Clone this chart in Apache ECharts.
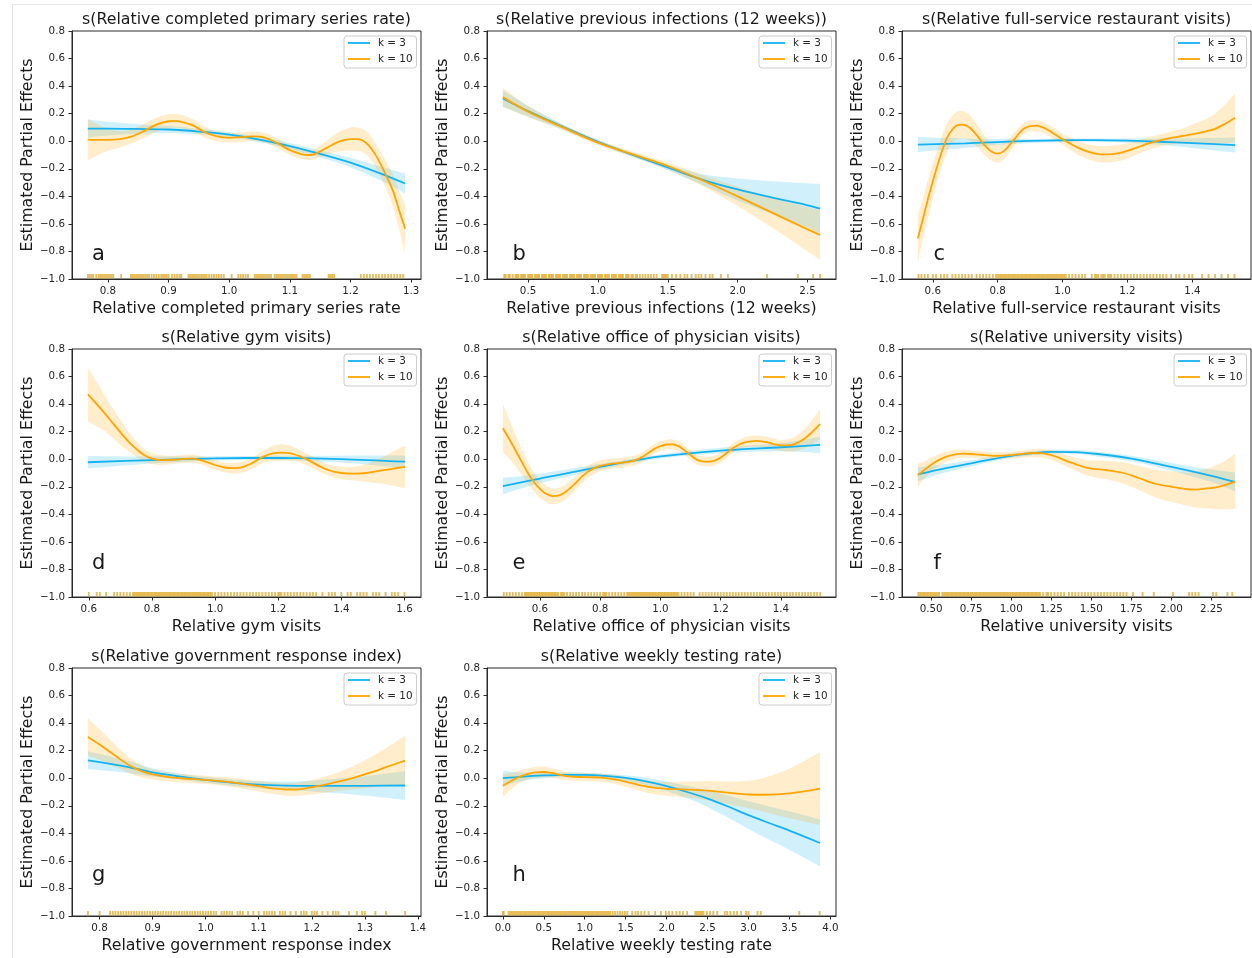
<!DOCTYPE html>
<html>
<head>
<meta charset="utf-8">
<script src="https://cdn.jsdelivr.net/npm/echarts@6/dist/echarts.min.js"></script>
<style>
  html, body { margin: 0; padding: 0; background: #ffffff; }
  #chart { width: 1252px; height: 958px; }
</style>
</head>
<body>
<div id="chart"></div>
<script>
// ---------- panel texts ----------
const panelLetters = ['a', 'b', 'c', 'd', 'e', 'f', 'g', 'h'];
const titles = [
  's(Relative completed primary series rate)',
  's(Relative previous infections (12 weeks))',
  's(Relative full-service restaurant visits)',
  's(Relative gym visits)',
  's(Relative office of physician visits)',
  's(Relative university visits)',
  's(Relative government response index)',
  's(Relative weekly testing rate)'
];
const xNames = [
  'Relative completed primary series rate',
  'Relative previous infections (12 weeks)',
  'Relative full-service restaurant visits',
  'Relative gym visits',
  'Relative office of physician visits',
  'Relative university visits',
  'Relative government response index',
  'Relative weekly testing rate'
];
const yName = 'Estimated Partial Effects';
const legendNames = ['k = 3', 'k = 10'];
const yTickRange = [-1.0, 0.8, 0.2];

// ---------- a: completed primary series ----------
const rangeA = [0.7409, 1.3162];
const ticksA = [0.8, 0.9, 1.0, 1.1, 1.2, 1.3];
const xA3 = [0.767, 0.80, 0.85, 0.90, 0.95, 1.00, 1.05, 1.10, 1.15, 1.20, 1.25, 1.29];
const fitA3 = [0.092, 0.091, 0.089, 0.085, 0.070, 0.048, 0.012, -0.035, -0.092, -0.155, -0.235, -0.307];
const ciA3 = [0.065, 0.05, 0.035, 0.025, 0.02, 0.018, 0.02, 0.022, 0.025, 0.035, 0.05, 0.072];
const xA10 = [0.767, 0.78, 0.80, 0.82, 0.84, 0.86, 0.88, 0.90, 0.91, 0.92, 0.94, 0.96, 0.98, 1.00, 1.02, 1.04, 1.06, 1.08, 1.10, 1.12, 1.13, 1.14, 1.16, 1.18, 1.20, 1.21, 1.22, 1.23, 1.24, 1.25, 1.26, 1.27, 1.28, 1.29];
const fitA10 = [0.012, 0.010, 0.010, 0.015, 0.035, 0.075, 0.120, 0.145, 0.147, 0.143, 0.115, 0.065, 0.035, 0.025, 0.030, 0.035, 0.025, -0.015, -0.065, -0.095, -0.100, -0.095, -0.050, -0.005, 0.015, 0.015, 0.005, -0.030, -0.090, -0.170, -0.260, -0.360, -0.500, -0.635];
const ciA10 = [0.15, 0.12, 0.08, 0.06, 0.05, 0.05, 0.05, 0.05, 0.05, 0.05, 0.045, 0.04, 0.035, 0.035, 0.035, 0.035, 0.035, 0.035, 0.035, 0.035, 0.035, 0.035, 0.05, 0.07, 0.085, 0.085, 0.085, 0.085, 0.085, 0.09, 0.1, 0.115, 0.14, 0.175];
const rugA = [0.767, 0.770, 0.773, 0.776, 0.781, 0.785, 0.788, 0.791, 0.794, 0.797, 0.800, 0.803, 0.806, 0.809, 0.822,
  0.838, 0.841, 0.844, 0.847, 0.850, 0.853, 0.856, 0.859, 0.862, 0.865, 0.868, 0.872, 0.876, 0.880, 0.884, 0.888, 0.891, 0.894, 0.897, 0.900, 0.906, 0.910, 0.914, 0.918, 0.921,
  0.933, 0.936, 0.939, 0.942, 0.945, 0.948, 0.951, 0.954, 0.957, 0.960, 0.963, 0.967, 0.971, 0.975, 0.979, 0.983, 0.987, 0.991,
  1.004, 1.015, 1.019, 1.023, 1.027, 1.031,
  1.042, 1.045, 1.048, 1.051, 1.054, 1.057, 1.060, 1.063, 1.066, 1.069,
  1.075, 1.078, 1.081, 1.084, 1.087, 1.090, 1.093, 1.096, 1.099, 1.102, 1.105, 1.108, 1.111,
  1.121, 1.124, 1.127, 1.130, 1.133, 1.164, 1.167, 1.170, 1.173,
  1.217, 1.222, 1.227, 1.232, 1.237, 1.242, 1.247, 1.252, 1.257, 1.262, 1.267, 1.272, 1.277, 1.282, 1.287];

// ---------- b: previous infections ----------
const rangeB = [0.2065, 2.7035];
const ticksB = [0.5, 1.0, 1.5, 2.0, 2.5];
const xB3 = [0.32, 0.5, 0.75, 1.0, 1.25, 1.5, 1.75, 2.0, 2.25, 2.5, 2.59];
const fitB3 = [0.31, 0.218, 0.104, -0.005, -0.10, -0.19, -0.28, -0.35, -0.41, -0.465, -0.49];
const ciB3 = [0.06, 0.04, 0.02, 0.015, 0.015, 0.02, 0.04, 0.08, 0.12, 0.16, 0.18];
const xB10 = [0.32, 0.5, 0.75, 1.0, 1.25, 1.5, 1.75, 2.0, 2.25, 2.5, 2.59];
const fitB10 = [0.32, 0.215, 0.10, -0.01, -0.095, -0.18, -0.285, -0.40, -0.52, -0.64, -0.68];
const ciB10 = [0.07, 0.04, 0.02, 0.02, 0.02, 0.025, 0.04, 0.07, 0.11, 0.16, 0.18];
const rugB = [0.33, 0.34, 0.36, 0.37, 0.39, 0.41, 0.42, 0.43, 0.45, 0.46, 0.47, 0.48, 0.50, 0.51, 0.52, 0.53, 0.55, 0.56, 0.57, 0.58,
  0.60, 0.61, 0.62, 0.63, 0.65, 0.66, 0.67, 0.68, 0.70, 0.71, 0.72, 0.73, 0.75, 0.76, 0.77, 0.78, 0.80, 0.81, 0.82, 0.83,
  0.85, 0.86, 0.87, 0.88, 0.90, 0.91, 0.92, 0.93, 0.95, 0.96, 0.97, 0.98, 1.00, 1.01, 1.02, 1.03, 1.05, 1.06, 1.07, 1.08,
  1.10, 1.11, 1.12, 1.13, 1.15, 1.16, 1.17, 1.18, 1.20, 1.21, 1.22, 1.24, 1.25, 1.27, 1.28, 1.30, 1.32, 1.34, 1.36, 1.38,
  1.40, 1.42, 1.46, 1.47, 1.48, 1.49, 1.50, 1.53, 1.56, 1.59, 1.62, 1.64, 1.67, 1.70, 1.72, 1.74, 1.77, 1.80, 1.82, 1.88,
  1.93, 2.21, 2.43, 2.54, 2.59];

// ---------- c: full-service restaurant visits ----------
const rangeC = [0.5051, 1.5809];
const ticksC = [0.6, 0.8, 1.0, 1.2, 1.4];
const xC3 = [0.554, 0.7, 0.8, 0.9, 1.0, 1.1, 1.2, 1.3, 1.4, 1.532];
const fitC3 = [-0.025, -0.015, -0.006, 0.002, 0.007, 0.008, 0.004, -0.004, -0.014, -0.028];
const ciC3 = [0.055, 0.035, 0.022, 0.015, 0.012, 0.012, 0.015, 0.022, 0.035, 0.055];
const xC10 = [0.554, 0.57, 0.585, 0.60, 0.615, 0.63, 0.645, 0.66, 0.675, 0.69, 0.705, 0.72, 0.74, 0.76, 0.78, 0.80, 0.82, 0.84, 0.86, 0.88, 0.90, 0.92, 0.94, 0.96, 0.98, 1.00, 1.02, 1.05, 1.08, 1.11, 1.14, 1.17, 1.20, 1.23, 1.26, 1.29, 1.32, 1.35, 1.38, 1.41, 1.44, 1.47, 1.50, 1.532];
const fitC10 = [-0.705, -0.56, -0.42, -0.29, -0.17, -0.06, 0.03, 0.085, 0.115, 0.12, 0.11, 0.085, 0.03, -0.03, -0.075, -0.09, -0.07, -0.02, 0.04, 0.09, 0.11, 0.113, 0.10, 0.075, 0.045, 0.015, -0.012, -0.05, -0.078, -0.093, -0.095, -0.088, -0.07, -0.045, -0.02, 0.0, 0.017, 0.03, 0.042, 0.055, 0.07, 0.09, 0.125, 0.17];
const ciC10 = [0.17, 0.15, 0.14, 0.13, 0.12, 0.11, 0.105, 0.1, 0.1, 0.1, 0.095, 0.09, 0.08, 0.07, 0.065, 0.065, 0.06, 0.05, 0.045, 0.04, 0.04, 0.04, 0.04, 0.04, 0.04, 0.04, 0.045, 0.05, 0.055, 0.06, 0.06, 0.06, 0.055, 0.05, 0.045, 0.045, 0.045, 0.05, 0.06, 0.075, 0.09, 0.11, 0.14, 0.175];
const rugC = [0.556, 0.565, 0.575, 0.585, 0.60, 0.61, 0.625, 0.635, 0.645, 0.66, 0.67, 0.68, 0.69, 0.70, 0.71, 0.72, 0.735, 0.745, 0.755, 0.765, 0.775, 0.785,
  0.795, 0.80, 0.805, 0.81, 0.815, 0.82, 0.825, 0.83, 0.835, 0.84, 0.845, 0.85, 0.855, 0.86, 0.865, 0.87, 0.875, 0.88, 0.885, 0.89, 0.895,
  0.90, 0.905, 0.91, 0.915, 0.92, 0.925, 0.93, 0.935, 0.94, 0.945, 0.95, 0.955, 0.96, 0.965, 0.97, 0.975, 0.98, 0.985, 0.99, 0.995,
  1.00, 1.005, 1.01, 1.02, 1.03, 1.04, 1.05, 1.06, 1.07, 1.09, 1.10, 1.105, 1.11, 1.12, 1.125, 1.13, 1.14, 1.145, 1.15, 1.16, 1.17,
  1.18, 1.19, 1.20, 1.21, 1.22, 1.23, 1.24, 1.25, 1.26, 1.27, 1.28, 1.29, 1.30, 1.31, 1.32, 1.335, 1.35, 1.36, 1.375, 1.39, 1.40,
  1.43, 1.45, 1.47, 1.49, 1.51, 1.53];

// ---------- d: gym visits ----------
const rangeD = [0.5468, 1.6523];
const ticksD = [0.6, 0.8, 1.0, 1.2, 1.4, 1.6];
const xD3 = [0.597, 0.8, 1.0, 1.2, 1.4, 1.602];
const fitD3 = [-0.022, -0.006, 0.006, 0.010, 0.001, -0.018];
const ciD3 = [0.045, 0.025, 0.015, 0.015, 0.025, 0.045];
const xD10 = [0.597, 0.625, 0.65, 0.675, 0.70, 0.725, 0.75, 0.775, 0.80, 0.83, 0.87, 0.90, 0.93, 0.96, 1.00, 1.03, 1.06, 1.09, 1.12, 1.15, 1.18, 1.21, 1.24, 1.27, 1.30, 1.33, 1.36, 1.40, 1.44, 1.48, 1.52, 1.56, 1.602];
const fitD10 = [0.47, 0.40, 0.335, 0.265, 0.195, 0.13, 0.075, 0.03, 0.005, -0.006, -0.004, 0.002, 0.004, -0.01, -0.042, -0.06, -0.065, -0.055, -0.025, 0.015, 0.04, 0.048, 0.042, 0.02, -0.012, -0.05, -0.08, -0.1, -0.105, -0.1, -0.085, -0.07, -0.055];
const ciD10 = [0.195, 0.16, 0.13, 0.11, 0.09, 0.07, 0.055, 0.045, 0.04, 0.035, 0.03, 0.03, 0.03, 0.03, 0.035, 0.035, 0.04, 0.04, 0.04, 0.045, 0.055, 0.06, 0.055, 0.045, 0.04, 0.04, 0.04, 0.045, 0.05, 0.065, 0.09, 0.12, 0.155];
const rugD = [0.60, 0.625, 0.635, 0.655, 0.68, 0.69, 0.70, 0.71, 0.72, 0.73, 0.74, 0.745, 0.75, 0.755, 0.76, 0.765, 0.77, 0.775, 0.78, 0.785, 0.79, 0.795,
  0.80, 0.805, 0.81, 0.815, 0.82, 0.825, 0.83, 0.835, 0.84, 0.845, 0.85, 0.855, 0.86, 0.865, 0.87, 0.875, 0.88, 0.885, 0.89, 0.895,
  0.90, 0.905, 0.91, 0.915, 0.92, 0.925, 0.93, 0.935, 0.94, 0.945, 0.95, 0.955, 0.96, 0.965, 0.97, 0.975, 0.98, 0.985, 0.99,
  1.00, 1.01, 1.02, 1.03, 1.04, 1.05, 1.06, 1.07, 1.08, 1.09, 1.10, 1.11, 1.12, 1.13, 1.14, 1.15, 1.16, 1.17, 1.18, 1.19,
  1.20, 1.205, 1.21, 1.22, 1.23, 1.24, 1.25, 1.26, 1.27, 1.28, 1.29, 1.30, 1.31, 1.32, 1.34, 1.36, 1.37, 1.38, 1.40, 1.42,
  1.43, 1.45, 1.46, 1.47, 1.48, 1.50, 1.51, 1.52, 1.54, 1.56, 1.57, 1.58, 1.60];

// ---------- e: office of physician visits ----------
const rangeE = [0.4244, 1.5827];
const ticksE = [0.6, 0.8, 1.0, 1.2, 1.4];
const xE3 = [0.477, 0.6, 0.8, 1.0, 1.2, 1.4, 1.53];
const fitE3 = [-0.195, -0.14, -0.055, 0.02, 0.063, 0.087, 0.104];
const ciE3 = [0.06, 0.035, 0.02, 0.015, 0.02, 0.03, 0.06];
const xE10 = [0.477, 0.50, 0.52, 0.54, 0.56, 0.58, 0.60, 0.62, 0.64, 0.66, 0.68, 0.70, 0.72, 0.74, 0.76, 0.78, 0.80, 0.83, 0.86, 0.89,
  0.92, 0.95, 0.98, 1.00, 1.02, 1.04, 1.06, 1.08, 1.10, 1.12, 1.14, 1.16, 1.18, 1.20, 1.22, 1.24, 1.26, 1.28, 1.30, 1.32,
  1.34, 1.36, 1.38, 1.40, 1.42, 1.44, 1.46, 1.48, 1.50, 1.53];
const fitE10 = [0.225, 0.14, 0.06, -0.02, -0.1, -0.165, -0.215, -0.25, -0.268, -0.265, -0.245, -0.21, -0.17, -0.125, -0.09, -0.065, -0.048, -0.035, -0.028, -0.02,
  -0.005, 0.03, 0.075, 0.095, 0.107, 0.108, 0.095, 0.065, 0.03, -0.003, -0.015, -0.017, -0.01, 0.012, 0.045, 0.08, 0.105, 0.122, 0.13, 0.133,
  0.128, 0.12, 0.108, 0.1, 0.1, 0.106, 0.125, 0.152, 0.19, 0.254];
const ciE10 = [0.175, 0.14, 0.115, 0.095, 0.08, 0.07, 0.065, 0.06, 0.058, 0.056, 0.055, 0.053, 0.05, 0.047, 0.045, 0.042, 0.04, 0.038, 0.036, 0.035,
  0.035, 0.035, 0.035, 0.035, 0.035, 0.035, 0.035, 0.035, 0.035, 0.035, 0.035, 0.035, 0.035, 0.035, 0.035, 0.035, 0.035, 0.037, 0.04, 0.04,
  0.04, 0.04, 0.04, 0.04, 0.045, 0.05, 0.06, 0.07, 0.085, 0.11];
const rugE = [0.48, 0.49, 0.50, 0.51, 0.52, 0.53, 0.54, 0.55, 0.555, 0.56, 0.565, 0.57, 0.575, 0.58, 0.585, 0.59, 0.595, 0.60, 0.605, 0.61, 0.615, 0.62,
  0.625, 0.63, 0.635, 0.64, 0.645, 0.65, 0.655, 0.66, 0.67, 0.675, 0.68, 0.69, 0.70, 0.71, 0.72, 0.73, 0.74, 0.75, 0.76, 0.77, 0.78, 0.79,
  0.80, 0.81, 0.815, 0.82, 0.83, 0.84, 0.85, 0.86, 0.87, 0.88, 0.89, 0.895, 0.90, 0.905, 0.91, 0.915, 0.92, 0.925, 0.93, 0.935, 0.94,
  0.945, 0.95, 0.955, 0.96, 0.965, 0.97, 0.975, 0.98, 0.985, 0.99, 0.995, 1.00, 1.005, 1.01, 1.015, 1.02, 1.025, 1.03, 1.035, 1.04,
  1.045, 1.05, 1.055, 1.06, 1.07, 1.08, 1.09, 1.10, 1.11, 1.13, 1.14, 1.15, 1.16, 1.17, 1.18, 1.19, 1.20, 1.21, 1.22, 1.23, 1.24,
  1.25, 1.26, 1.27, 1.28, 1.29, 1.30, 1.31, 1.32, 1.33, 1.34, 1.35, 1.36, 1.37, 1.38, 1.39, 1.40, 1.41, 1.42, 1.43, 1.44, 1.45,
  1.46, 1.47, 1.48, 1.49, 1.50, 1.51, 1.52, 1.53];

// ---------- f: university visits ----------
const rangeF = [0.318, 2.497];
const ticksF = [0.50, 0.75, 1.00, 1.25, 1.50, 1.75, 2.00, 2.25];
const xF3 = [0.417, 0.6, 0.75, 1.0, 1.25, 1.4, 1.5, 1.75, 2.0, 2.25, 2.398];
const fitF3 = [-0.11, -0.063, -0.03, 0.025, 0.054, 0.052, 0.043, 0.005, -0.055, -0.12, -0.165];
const ciF3 = [0.05, 0.03, 0.022, 0.015, 0.015, 0.015, 0.017, 0.02, 0.028, 0.045, 0.068];
const xF10 = [0.417, 0.45, 0.5, 0.55, 0.6, 0.65, 0.7, 0.75, 0.8, 0.9, 1.0, 1.1, 1.15, 1.2, 1.25, 1.3, 1.35, 1.4, 1.45, 1.5, 1.6, 1.7, 1.8, 1.9, 2.0, 2.1, 2.15, 2.2, 2.3, 2.398];
const fitF10 = [-0.115, -0.085, -0.04, -0.005, 0.02, 0.035, 0.04, 0.038, 0.033, 0.025, 0.03, 0.042, 0.045, 0.042, 0.03, 0.01, -0.015, -0.035, -0.055, -0.068, -0.08, -0.1, -0.138, -0.178, -0.2, -0.218, -0.22, -0.215, -0.198, -0.162];
const ciF10 = [0.085, 0.065, 0.05, 0.042, 0.037, 0.033, 0.03, 0.028, 0.027, 0.025, 0.025, 0.027, 0.03, 0.032, 0.035, 0.038, 0.042, 0.047, 0.052, 0.058, 0.068, 0.078, 0.088, 0.1, 0.11, 0.12, 0.13, 0.14, 0.165, 0.2];
const rugF = [0.42, 0.43, 0.44, 0.45, 0.46, 0.47, 0.48, 0.49, 0.50, 0.51, 0.52, 0.53, 0.54, 0.55, 0.57, 0.58, 0.59, 0.60, 0.61, 0.62, 0.63, 0.64,
  0.65, 0.66, 0.67, 0.68, 0.69, 0.70, 0.71, 0.72, 0.73, 0.74, 0.75, 0.76, 0.77, 0.78, 0.79, 0.80, 0.81, 0.82, 0.83, 0.84, 0.85, 0.86,
  0.87, 0.88, 0.89, 0.90, 0.91, 0.92, 0.93, 0.94, 0.95, 0.96, 0.97, 0.98, 0.99, 1.00, 1.01, 1.02, 1.03, 1.04, 1.05, 1.06, 1.07, 1.08,
  1.09, 1.10, 1.11, 1.12, 1.13, 1.14, 1.15, 1.16, 1.17, 1.18, 1.20, 1.22, 1.23, 1.25, 1.27, 1.29, 1.31, 1.33, 1.36, 1.38, 1.40, 1.42,
  1.44, 1.46, 1.48, 1.50, 1.52, 1.54, 1.56, 1.58, 1.60, 1.62, 1.64, 1.66, 1.68, 1.70, 1.72, 1.76, 1.82, 1.89, 2.01, 2.11, 2.13, 2.15,
  2.17, 2.26, 2.28, 2.35, 2.38];

// ---------- g: government response index ----------
const rangeG = [0.7481, 1.4059];
const ticksG = [0.8, 0.9, 1.0, 1.1, 1.2, 1.3, 1.4];
const xG3 = [0.778, 0.85, 0.9, 0.95, 1.0, 1.05, 1.1, 1.15, 1.2, 1.3, 1.376];
const fitG3 = [0.13, 0.085, 0.042, 0.013, -0.012, -0.032, -0.047, -0.054, -0.056, -0.055, -0.053];
const ciG3 = [0.065, 0.045, 0.03, 0.022, 0.02, 0.022, 0.025, 0.03, 0.04, 0.07, 0.105];
const xG10 = [0.778, 0.80, 0.82, 0.84, 0.86, 0.88, 0.90, 0.93, 0.96, 1.00, 1.05, 1.10, 1.13, 1.15, 1.17, 1.19, 1.21, 1.23, 1.25, 1.28, 1.31, 1.34, 1.376];
const fitG10 = [0.30, 0.245, 0.19, 0.135, 0.085, 0.05, 0.028, 0.008, -0.002, -0.012, -0.03, -0.058, -0.075, -0.082, -0.082, -0.072, -0.058, -0.042, -0.025, 0.005, 0.04, 0.08, 0.128];
const ciG10 = [0.135, 0.11, 0.09, 0.07, 0.055, 0.045, 0.037, 0.032, 0.03, 0.03, 0.033, 0.038, 0.042, 0.045, 0.047, 0.05, 0.055, 0.06, 0.068, 0.085, 0.11, 0.14, 0.18];
const rugG = [0.778, 0.80, 0.82, 0.825, 0.83, 0.835, 0.84, 0.845, 0.85, 0.855, 0.86, 0.865, 0.87, 0.875, 0.88, 0.885, 0.89, 0.895,
  0.90, 0.905, 0.91, 0.915, 0.92, 0.925, 0.93, 0.935, 0.94, 0.945, 0.95, 0.955, 0.96, 0.965, 0.97, 0.975, 0.98, 0.985, 0.99, 0.995,
  1.00, 1.005, 1.01, 1.015, 1.02, 1.03, 1.035, 1.04, 1.045, 1.05, 1.06, 1.065, 1.07, 1.08, 1.09, 1.10, 1.11, 1.115, 1.12, 1.125,
  1.13, 1.14, 1.145, 1.15, 1.16, 1.17, 1.18, 1.185, 1.19, 1.20, 1.205, 1.21, 1.22, 1.23, 1.24, 1.245, 1.25, 1.27, 1.285, 1.295,
  1.30, 1.32, 1.34, 1.376];

// ---------- h: weekly testing rate ----------
const rangeH = [-0.1938, 4.0688];
const ticksH = [0.0, 0.5, 1.0, 1.5, 2.0, 2.5, 3.0, 3.5, 4.0];
const xH3 = [0.0, 0.25, 0.5, 0.75, 1.0, 1.25, 1.5, 1.75, 2.0, 2.25, 2.5, 2.75, 3.0, 3.25, 3.5, 3.875];
const fitH3 = [0.0, 0.012, 0.02, 0.025, 0.025, 0.017, 0.002, -0.023, -0.058, -0.1, -0.148, -0.205, -0.268, -0.325, -0.38, -0.47];
const ciH3 = [0.055, 0.03, 0.02, 0.017, 0.015, 0.016, 0.02, 0.027, 0.035, 0.045, 0.06, 0.08, 0.1, 0.12, 0.14, 0.17];
const xH10 = [0.0, 0.1, 0.2, 0.3, 0.4, 0.5, 0.6, 0.7, 0.8, 1.0, 1.2, 1.4, 1.6, 1.8, 2.0, 2.2, 2.5, 2.8, 3.0, 3.2, 3.5, 3.875];
const fitH10 = [-0.055, -0.02, 0.01, 0.03, 0.043, 0.045, 0.038, 0.025, 0.013, 0.008, 0.004, -0.012, -0.04, -0.065, -0.077, -0.081, -0.09, -0.108, -0.118, -0.12, -0.11, -0.075];
const ciH10 = [0.085, 0.06, 0.045, 0.04, 0.04, 0.04, 0.035, 0.032, 0.03, 0.03, 0.03, 0.033, 0.038, 0.045, 0.05, 0.057, 0.07, 0.085, 0.1, 0.125, 0.18, 0.265];
const rugH = [0.0, 0.01, 0.07, 0.09, 0.11, 0.13, 0.15, 0.17, 0.19, 0.21, 0.23, 0.25, 0.27, 0.29, 0.31, 0.33, 0.35, 0.37, 0.39, 0.41, 0.43,
  0.45, 0.47, 0.49, 0.51, 0.53, 0.55, 0.57, 0.59, 0.61, 0.63, 0.65, 0.67, 0.69, 0.71, 0.73, 0.75, 0.77, 0.79, 0.81, 0.83, 0.85,
  0.87, 0.89, 0.91, 0.93, 0.95, 0.97, 0.99, 1.01, 1.03, 1.05, 1.07, 1.09, 1.11, 1.13, 1.15, 1.17, 1.19, 1.21, 1.23, 1.25, 1.27,
  1.29, 1.31, 1.34, 1.37, 1.40, 1.43, 1.46, 1.49, 1.52, 1.58, 1.62, 1.65, 1.69, 1.73, 1.78, 1.86, 1.93, 1.99, 2.03, 2.07, 2.12,
  2.16, 2.20, 2.25, 2.35, 2.37, 2.39, 2.41, 2.43, 2.45, 2.49, 2.53, 2.57, 2.62, 2.71, 2.74, 2.78, 2.82, 2.86, 2.91, 2.97, 3.00,
  3.11, 3.15, 3.62, 3.87];

// ---------- assemble panels ----------
const panels = [
  { range: rangeA, ticks: ticksA, dec: 1, k3: [xA3, fitA3, ciA3], k10: [xA10, fitA10, ciA10], rug: rugA },
  { range: rangeB, ticks: ticksB, dec: 1, k3: [xB3, fitB3, ciB3], k10: [xB10, fitB10, ciB10], rug: rugB },
  { range: rangeC, ticks: ticksC, dec: 1, k3: [xC3, fitC3, ciC3], k10: [xC10, fitC10, ciC10], rug: rugC },
  { range: rangeD, ticks: ticksD, dec: 1, k3: [xD3, fitD3, ciD3], k10: [xD10, fitD10, ciD10], rug: rugD },
  { range: rangeE, ticks: ticksE, dec: 1, k3: [xE3, fitE3, ciE3], k10: [xE10, fitE10, ciE10], rug: rugE },
  { range: rangeF, ticks: ticksF, dec: 2, k3: [xF3, fitF3, ciF3], k10: [xF10, fitF10, ciF10], rug: rugF },
  { range: rangeG, ticks: ticksG, dec: 1, k3: [xG3, fitG3, ciG3], k10: [xG10, fitG10, ciG10], rug: rugG },
  { range: rangeH, ticks: ticksH, dec: 1, k3: [xH3, fitH3, ciH3], k10: [xH10, fitH10, ciH10], rug: rugH }
];

// ---------- layout & style ----------
const FONT = 'DejaVu Sans';
const BLUE = '#16b2f0';
const ORANGE = '#ffa500';
const AXIS = '#2a2a2a';
const TEXT = '#1a1a1a';
const COLS = [72, 487, 902];
const ROWS = [31, 349, 668];
const PW = 349, PH = 248;
const LETTER_X = [92, 512.5, 933.5];
const LETTER_BASE = [262, 571, 883];

// Catmull-Rom style cubic segments through screen points
function curveTo(p) {
  let s = '';
  for (let i = 0; i < p.length - 1; i++) {
    const a = p[Math.max(i - 1, 0)], b = p[i], c = p[i + 1], e = p[Math.min(i + 2, p.length - 1)];
    const c1 = [b[0] + (c[0] - a[0]) / 6, b[1] + (c[1] - a[1]) / 6];
    const c2 = [c[0] - (e[0] - b[0]) / 6, c[1] - (e[1] - b[1]) / 6];
    s += 'C' + c1.join(',') + ' ' + c2.join(',') + ' ' + c.join(',');
  }
  return s;
}

function bandSeries(i, xs, fit, ci, fill) {
  const rows = xs.map((x, j) => [x, fit[j] - ci[j], fit[j] + ci[j]]);
  return {
    type: 'custom', xAxisIndex: i, yAxisIndex: i, silent: true, z: 1,
    encode: { x: 0, y: [1, 2] }, data: rows,
    renderItem(params, api) {
      if (params.dataIndex !== 0) return null;
      const up = rows.map(r => api.coord([r[0], r[2]]));
      const lo = rows.map(r => api.coord([r[0], r[1]])).reverse();
      const d = 'M' + up[0].join(',') + curveTo(up) + 'L' + lo[0].join(',') + curveTo(lo) + 'Z';
      return { type: 'path', shape: { pathData: d }, style: { fill: fill } };
    }
  };
}

function fitSeries(i, name, xs, fit, color, z) {
  return {
    type: 'line', name: name, xAxisIndex: i, yAxisIndex: i, z: z,
    data: xs.map((x, j) => [x, fit[j]]),
    symbol: 'none', showSymbol: false, smooth: 0.33,
    lineStyle: { color: color, width: 1.8 }, itemStyle: { color: color },
    emphasis: { disabled: true }
  };
}

function rugSeries(i, rug, color, z) {
  return {
    type: 'scatter', xAxisIndex: i, yAxisIndex: i, silent: true, clip: false, z: z,
    data: rug.map(v => [v, yTickRange[0]]),
    symbol: 'rect', symbolSize: [1.8, 4.5], symbolOffset: [0, -2.75],
    itemStyle: { color: color }
  };
}

const minus = v => (v < -1e-9 ? '\u2212' : '') + Math.abs(v).toFixed(1);

const grids = [], xAxes = [], yAxes = [], series = [], legends = [], graphics = [];

panels.forEach((p, i) => {
  const left = COLS[i % 3], top = ROWS[Math.floor(i / 3)];
  grids.push({ left: left, top: top, width: PW, height: PH, show: true, borderColor: AXIS, borderWidth: 1, backgroundColor: 'transparent' });

  xAxes.push({
    gridIndex: i, type: 'value', min: p.range[0], max: p.range[1],
    splitLine: { show: false },
    axisLine: { show: true, onZero: false, lineStyle: { color: AXIS, width: 1 } },
    axisTick: { show: true, length: 3.5, customValues: p.ticks, lineStyle: { color: AXIS } },
    axisLabel: { customValues: p.ticks, formatter: v => v.toFixed(p.dec), color: '#262626', fontSize: 10.3, fontFamily: FONT, margin: 7 },
    name: xNames[i], nameLocation: 'middle', nameGap: 21.5,
    nameTextStyle: { fontSize: 15.8, fontFamily: FONT, color: TEXT }
  });

  yAxes.push({
    gridIndex: i, type: 'value', min: yTickRange[0], max: yTickRange[1], interval: yTickRange[2],
    splitLine: { show: false },
    axisLine: { show: true, onZero: false, lineStyle: { color: AXIS, width: 1 } },
    axisTick: { show: true, length: 3.5, lineStyle: { color: AXIS } },
    axisLabel: { formatter: minus, color: '#262626', fontSize: 10.3, fontFamily: FONT, margin: 7 },
    name: yName, nameLocation: 'middle', nameGap: 36, nameRotate: 90,
    nameTextStyle: { fontSize: 15.8, fontFamily: FONT, color: TEXT }
  });

  series.push(bandSeries(i, p.k3[0], p.k3[1], p.k3[2], 'rgba(22,178,240,0.2)'));
  series.push(bandSeries(i, p.k10[0], p.k10[1], p.k10[2], 'rgba(255,165,0,0.2)'));
  series.push(rugSeries(i, p.rug, 'rgba(22,178,240,0.35)', 2));
  series.push(rugSeries(i, p.rug, 'rgba(255,165,0,0.82)', 2.5));
  series.push(fitSeries(i, legendNames[0], p.k3[0], p.k3[1], BLUE, 3));
  series.push(fitSeries(i, legendNames[1], p.k10[0], p.k10[1], ORANGE, 4));

  legends.push({
    data: legendNames, orient: 'vertical', left: left + 272, top: top + 5,
    selectedMode: false, icon: 'rect', itemWidth: 22, itemHeight: 1.8, itemGap: 4,
    padding: [1, 4, 3, 4], backgroundColor: 'rgba(255,255,255,0.8)',
    borderColor: '#cccccc', borderWidth: 1, borderRadius: 3,
    textStyle: { fontSize: 10.4, fontFamily: FONT, color: '#262626', lineHeight: 12, padding: [0, 0, 0, 3] }
  });

  graphics.push({
    type: 'text', x: left + PW / 2, y: top - 11, silent: true,
    style: { text: titles[i], fontSize: 15.8, fontFamily: FONT, fill: TEXT, align: 'center', verticalAlign: 'middle', textAlign: 'center', textVerticalAlign: 'middle' }
  });
  graphics.push({
    type: 'text', x: LETTER_X[i % 3], y: LETTER_BASE[Math.floor(i / 3)] - 7.2, silent: true,
    style: { text: panelLetters[i], fontSize: 21, fontFamily: FONT, fill: TEXT, align: 'left', verticalAlign: 'middle', textAlign: 'left', textVerticalAlign: 'middle' }
  });
});

// faint page frame
graphics.push({ type: 'line', silent: true, shape: { x1: 12, y1: 4.5, x2: 1252, y2: 4.5 }, style: { stroke: '#e6e6e6', lineWidth: 1 } });
graphics.push({ type: 'line', silent: true, shape: { x1: 12.5, y1: 4.5, x2: 12.5, y2: 958 }, style: { stroke: '#e6e6e6', lineWidth: 1 } });

const chart = echarts.init(document.getElementById('chart'), null, { renderer: 'canvas' });
chart.setOption({
  backgroundColor: '#ffffff',
  animation: false,
  textStyle: { fontFamily: FONT },
  grid: grids,
  xAxis: xAxes,
  yAxis: yAxes,
  legend: legends,
  graphic: graphics,
  series: series
});
</script>
</body>
</html>
